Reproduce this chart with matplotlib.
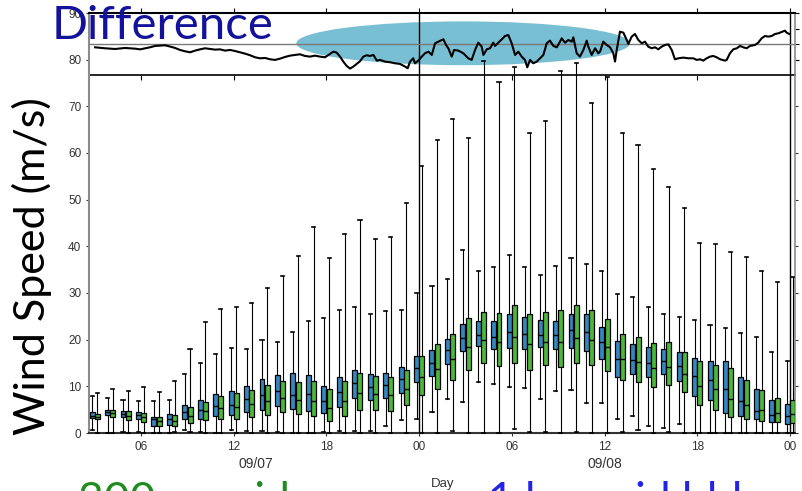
import matplotlib
matplotlib.use("Agg")
import matplotlib.pyplot as plt
from matplotlib.patches import Ellipse
from matplotlib.ticker import NullFormatter

# ---- hourly wind-speed distributions (m/s), 09/07 03h .. 09/09 00h ----
hours = list(range(3, 49))

blue_lo = [0.7, 0.1, 0.3, 0.3, 0.1, 0.1, 0.7, 0.2, 0.1, 0.6, 0.5, 0.5, 0.3, 0.1, 0.1, 0.3,
           0.4, 0.4, 0.4, 1.4, 2.8, 3.0, 4.6, 7.2, 6.6, 11.0, 10.5, 9.8, 9.6, 7.2, 9.0,
           9.2, 6.4, 6.4, 3.1, 3.7, 1.4, 1.1, 2.0, 0.0, 0.0, 0.0, 0.0, 0.1, 0.0, 0.0]
blue_q1 = [3.2, 3.9, 3.4, 3.0, 1.6, 1.8, 2.9, 3.1, 3.6, 3.8, 4.6, 4.9, 5.8, 5.1, 4.7, 4.2,
           5.5, 7.6, 7.0, 7.6, 8.6, 10.9, 12.2, 14.8, 17.6, 18.6, 18.0, 18.2, 18.1, 18.4,
           17.9, 18.2, 17.6, 15.8, 12.1, 12.6, 11.9, 12.7, 11.2, 7.9, 7.1, 4.2, 3.6, 2.9,
           2.3, 2.0]
blue_med = [3.7, 4.6, 4.1, 3.9, 2.9, 3.1, 4.5, 4.9, 5.7, 6.1, 7.2, 8.1, 9.1, 8.2, 8.4, 6.9,
            8.7, 10.8, 9.8, 10.2, 11.6, 14.0, 14.9, 17.7, 20.4, 21.1, 20.6, 21.6, 21.3,
            21.1, 20.9, 22.0, 21.7, 19.5, 15.9, 15.7, 15.1, 15.4, 14.3, 12.3, 11.3, 9.4,
            6.8, 4.7, 3.9, 3.7]
blue_q3 = [4.4, 5.0, 4.7, 4.5, 3.4, 4.1, 6.0, 7.1, 8.3, 9.0, 10.0, 11.6, 12.5, 12.8, 12.4,
           10.1, 11.9, 13.4, 12.6, 12.8, 14.2, 16.6, 17.8, 20.2, 23.3, 24.1, 23.9, 25.6,
           24.8, 24.3, 24.1, 25.4, 25.6, 22.8, 19.7, 19.1, 18.5, 18.1, 17.3, 16.1, 15.5,
           15.5, 12.0, 9.4, 7.0, 6.2]
blue_hi = [7.9, 7.5, 7.0, 6.9, 6.9, 7.0, 12.7, 15.0, 16.9, 18.3, 18.0, 20.0, 19.6, 21.6,
           23.9, 24.6, 26.3, 27.1, 25.6, 26.1, 26.4, 30.1, 31.4, 32.9, 39.2, 34.8, 35.6,
           38.2, 35.5, 33.9, 35.8, 37.4, 36.1, 34.6, 29.7, 29.1, 27.1, 25.5, 24.9, 24.2,
           23.2, 22.6, 21.5, 20.5, 17.4, 15.4]

green_lo = [0.1, 0.1, 0.1, 0.1, 0.1, 0.3, 0.3, 0.1, 0.1, 0.1, 0.1, 0.1, 0.1, 0.1, 0.1, 0.1,
            0.0, 0.0, 0.0, 0.1, 0.0, 0.0, 0.0, 0.4, 0.0, 0.0, 0.0, 0.8, 0.3, 0.3, 0.0,
            0.3, 0.0, 0.0, 0.3, 0.6, 0.0, 0.3, 0.0, 0.0, 0.0, 0.0, 0.0, 0.0, 0.0, 0.0]
green_q1 = [2.9, 3.4, 2.7, 2.3, 1.4, 1.6, 2.1, 2.8, 3.1, 3.0, 3.4, 3.9, 4.6, 4.0, 3.6, 2.6,
            3.6, 5.0, 4.9, 4.8, 5.9, 8.1, 9.4, 11.4, 13.4, 15.1, 14.4, 14.9, 13.6, 14.5,
            14.1, 15.1, 14.5, 13.3, 11.4, 10.9, 9.8, 10.2, 8.7, 6.1, 4.9, 3.5, 3.0, 2.6,
            2.4, 2.1]
green_med = [3.4, 4.3, 3.7, 3.4, 2.5, 2.5, 3.7, 4.7, 5.3, 5.5, 6.2, 6.9, 7.6, 7.1, 6.8,
             5.4, 6.9, 8.6, 8.3, 8.2, 9.4, 11.9, 13.7, 15.8, 18.4, 20.0, 19.6, 20.6, 19.0,
             19.6, 19.6, 20.4, 19.9, 18.4, 15.8, 15.3, 14.0, 14.2, 12.6, 10.1, 9.4, 7.3,
             6.1, 4.9, 4.2, 4.0]
green_q3 = [4.1, 5.0, 4.8, 4.3, 3.4, 3.9, 5.6, 6.7, 7.9, 8.5, 9.2, 10.2, 11.1, 11.0, 11.2,
            9.4, 11.1, 12.8, 12.3, 12.1, 13.4, 16.4, 19.0, 21.3, 24.7, 26.0, 25.8, 27.4,
            25.4, 25.9, 26.3, 27.4, 26.4, 24.4, 21.3, 20.6, 19.2, 19.4, 17.4, 15.4, 14.5,
            13.9, 11.4, 9.3, 7.4, 7.1]
green_hi = [8.6, 9.4, 9.1, 9.9, 8.8, 11.1, 18.1, 23.7, 26.5, 27.1, 27.8, 31.1, 33.6, 38.0,
            44.2, 37.4, 42.7, 45.6, 41.6, 41.9, 49.3, 57.3, 62.8, 67.2, 63.1, 79.8, 75.1,
            78.5, 64.3, 66.8, 77.5, 79.2, 70.7, 76.2, 64.3, 61.7, 56.5, 52.6, 48.1, 40.7,
            40.5, 38.7, 37.6, 34.7, 32.3, 33.4]

# ---- difference curve (top strip) ----
diff_hour = [3.02, 3.67, 4.32, 4.96, 5.61, 5.94, 6.26, 6.58, 6.91, 7.23, 7.55, 7.88, 8.20,
             8.52, 8.85, 9.17, 9.50, 9.82, 10.14, 10.47, 10.79, 11.11, 11.44, 11.76, 12.08,
             12.41, 12.73, 13.06, 13.38, 13.70, 14.03, 14.35, 14.67, 15.00, 15.32, 15.64,
             15.97, 16.29, 16.61, 16.94, 17.26, 17.59, 17.91, 18.23, 18.45, 18.66, 18.88,
             19.09, 19.31, 19.53, 19.74, 19.96, 20.17, 20.39, 20.61, 20.82, 21.04, 21.26,
             21.47, 21.79, 22.12, 22.44, 22.76, 23.09, 23.26, 23.41, 23.62, 23.73, 23.95,
             24.17, 24.38, 24.60, 24.82, 25.03, 25.24, 25.46, 25.57, 25.74, 25.89, 26.11,
             26.26, 26.54, 26.86, 27.18, 27.40, 27.62, 27.83, 28.05, 28.16, 28.38, 28.59,
             28.80, 28.91, 29.13, 29.35, 29.56, 29.77, 29.99, 30.21, 30.42, 30.64, 30.85,
             31.00, 31.18, 31.39, 31.61, 31.83, 32.04, 32.26, 32.47, 32.69, 32.91, 33.12,
             33.23, 33.44, 33.66, 33.88, 33.98, 34.20, 34.41, 34.63, 34.85, 34.95, 35.17,
             35.39, 35.60, 35.71, 35.92, 36.14, 36.36, 36.57, 36.68, 36.79, 37.00, 37.22,
             37.44, 37.54, 37.76, 37.97, 38.19, 38.41, 38.62, 38.83, 39.05, 39.27, 39.48,
             39.70, 39.92, 40.13, 40.35, 40.56, 40.78, 41.10, 41.42, 41.75, 41.97, 42.18,
             42.39, 42.61, 42.83, 43.04, 43.26, 43.48, 43.80, 43.91, 44.12, 44.34, 44.56,
             44.77, 44.98, 45.20, 45.42, 45.74, 45.95, 46.17, 46.39, 46.60, 46.82, 47.04,
             47.25, 47.47, 47.68, 47.79, 47.96]
diff_value = [82.64, 82.43, 82.28, 82.50, 82.35, 82.20, 82.43, 82.64, 82.93, 83.00, 83.07,
              82.80, 82.50, 82.07, 81.78, 81.57, 81.93, 82.20, 82.43, 82.28, 82.14, 82.20,
              81.93, 82.07, 81.85, 81.57, 81.28, 80.93, 80.50, 80.28, 80.35, 80.07, 79.93,
              80.21, 80.57, 80.85, 81.00, 81.14, 80.78, 80.64, 80.85, 80.64, 80.50, 81.21,
              81.71, 81.50, 80.64, 79.57, 78.64, 78.07, 78.50, 79.07, 79.64, 80.64, 80.93,
              80.78, 81.00, 79.78, 79.93, 79.57, 79.43, 79.21, 79.07, 78.50, 78.14, 79.57,
              80.28, 79.21, 79.78, 80.64, 81.36, 81.71, 81.00, 83.50, 83.85, 84.20, 84.35,
              83.14, 82.43, 80.64, 82.07, 81.93, 81.36, 80.28, 79.93, 82.07, 83.64, 82.78,
              81.00, 82.21, 82.43, 83.64, 82.93, 83.64, 84.35, 85.07, 85.28, 83.50, 81.00,
              81.71, 80.64, 79.93, 78.35, 79.93, 79.21, 79.57, 80.28, 81.00, 83.50, 84.07,
              82.93, 82.64, 83.85, 84.57, 83.64, 84.21, 83.85, 84.78, 81.36, 80.64, 82.07,
              84.07, 82.78, 81.00, 82.43, 81.36, 81.71, 83.85, 83.14, 82.64, 81.36, 79.57,
              82.07, 86.00, 85.78, 84.21, 83.35, 84.93, 85.50, 84.21, 83.50, 83.85, 82.78,
              82.43, 82.64, 82.21, 82.78, 83.14, 83.28, 82.07, 80.07, 80.28, 80.43, 80.28,
              80.28, 79.93, 80.07, 79.78, 80.28, 80.64, 80.78, 80.50, 80.07, 79.78, 79.93,
              81.36, 82.21, 82.43, 82.93, 82.64, 82.43, 82.93, 83.14, 83.64, 84.57, 85.07,
              84.93, 85.07, 85.50, 85.64, 85.93, 86.21, 85.78, 85.50]

tick_hours = [6, 12, 18, 24, 30, 36, 42, 48]
tick_labels = ["06", "12", "18", "00", "06", "12", "18", "00"]
day_labels = ["09/07", "09/08"]
day_label_hours = [13.4, 36.0]

BLUE = "#3587C2"
GREEN = "#4CB83A"
SPINE_GRAY = "#8c8c8c"
TXT = "#333333"

plt.rcParams["font.family"] = ["Liberation Sans", "DejaVu Sans"]

fig = plt.figure(figsize=(8.02, 4.91), dpi=100)
left, right = 89 / 802, 795 / 802
y_split = 76.7
y_top = 90.0
xmin, xmax = 2.63, 48.33

# top strip: difference curve
axt = fig.add_axes([left, 0.8473, right - left, 0.1262])
# main panel: box plots
ax = fig.add_axes([left, 0.1181, right - left, 0.7292])
ax.set_zorder(3)
axt.set_zorder(2)
ax.patch.set_visible(False)

for a in (ax, axt):
    a.set_xlim(xmin, xmax)
    a.axvline(24, color="black", lw=1.0, zorder=1)
    a.axvline(48, color="black", lw=1.0, zorder=1)

# ---- box plots ----
def make_stats(lo, q1, med, q3, hi):
    return [dict(whislo=a, q1=b, med=c, q3=d, whishi=e, fliers=[])
            for a, b, c, d, e in zip(lo, q1, med, q3, hi)]

series = [
    (make_stats(blue_lo, blue_q1, blue_med, blue_q3, blue_hi), -0.17, BLUE),
    (make_stats(green_lo, green_q1, green_med, green_q3, green_hi), 0.17, GREEN),
]
for st, off, col in series:
    bp = ax.bxp(st, positions=[h + off for h in hours], widths=0.32,
                patch_artist=True, showfliers=False, manage_ticks=False,
                boxprops=dict(facecolor=col, edgecolor="black", linewidth=0.9),
                medianprops=dict(color="black", linewidth=1.0),
                whiskerprops=dict(color="black", linewidth=0.8),
                capprops=dict(color="black", linewidth=1.2),
                capwidths=0.2, zorder=3)
    for artist in bp["whiskers"] + bp["caps"]:
        artist.set_clip_on(False)

ax.set_ylim(0, y_split)
ax.set_yticks([0, 10, 20, 30, 40, 50, 60, 70])
ax.set_xticks(tick_hours)
ax.set_xticklabels(tick_labels)
ax.tick_params(axis="y", left=True, right=True, labelright=False, direction="out",
               length=2.5, width=0.8, colors=TXT, labelsize=8.5, pad=3)
ax.tick_params(axis="x", bottom=True, top=False, direction="out", length=2.5,
               width=0.8, colors=TXT, labelsize=8.5, pad=3.5)
ax.spines["top"].set_visible(False)
ax.spines["left"].set_color(SPINE_GRAY)
ax.spines["left"].set_linewidth(1.5)
ax.spines["right"].set_color(SPINE_GRAY)
ax.spines["right"].set_linewidth(1.2)
ax.spines["bottom"].set_color(TXT)
ax.spines["bottom"].set_linewidth(1.5)

for lab, hx in zip(day_labels, day_label_hours):
    ax.annotate(lab, xy=(hx, 0), xycoords=("data", "axes fraction"),
                xytext=(0, -22), textcoords="offset points", ha="center", va="center",
                fontsize=10, color=TXT, annotation_clip=False)

# ---- top strip ----
axt.set_ylim(y_split, y_top)
axt.add_patch(Ellipse((26.85, 83.5), 21.6, 9.4, facecolor="#79BFD3", edgecolor="none",
                      zorder=0.5))
axt.axhline(83.33, color="#7a7a7a", lw=1.0, zorder=1)
axt.plot(diff_hour, diff_value, color="black", lw=1.5, zorder=4)
axt.set_yticks([80, 90])
axt.set_xticks(tick_hours)
axt.tick_params(axis="x", top=True, bottom=True, labelbottom=False, direction="out",
                length=3.5, width=0.8, colors="black")
axt.tick_params(axis="y", left=True, direction="out", length=2.5, width=0.8,
                colors=TXT, labelsize=8.5, pad=3)
axt.spines["top"].set_linewidth(1.5)
axt.spines["bottom"].set_linewidth(1.2)
axt.spines["left"].set_color(SPINE_GRAY)
axt.spines["left"].set_linewidth(1.5)
axt.spines["right"].set_color(SPINE_GRAY)
axt.spines["right"].set_linewidth(1.2)
sec = axt.secondary_yaxis("right")
sec.set_yticks([76.67, 80, 83.33, 86.67, 90])
sec.yaxis.set_major_formatter(NullFormatter())
sec.tick_params(direction="out", length=3, width=0.8, colors="black")
sec.spines["right"].set_visible(False)

# ---- titles and annotations ----
big = ["Lato", "DejaVu Sans"]
fig.text(32 / 802, 1 - 266 / 491, "Wind Speed (m/s)", rotation=90, ha="center",
         va="center", fontsize=31, family=big, color="black")
fig.text(52 / 802, 1 - 26 / 491, "Difference", ha="left", va="center", fontsize=34,
         family=big, color="#12129A", zorder=10)
fig.text(443 / 802, 1 - 484 / 491, "Day", ha="center", va="center", fontsize=9.5,
         color=TXT)
fig.text(78 / 802, 1 - 514 / 491, "300 m grid", ha="left", va="baseline", fontsize=32,
         family=big, color="#1E8C1E")
fig.text(488 / 802, 1 - 514 / 491, "1 km grid bld", ha="left", va="baseline",
         fontsize=32, family=big, color="#2323E6")

fig.savefig("out.png", dpi=100)
